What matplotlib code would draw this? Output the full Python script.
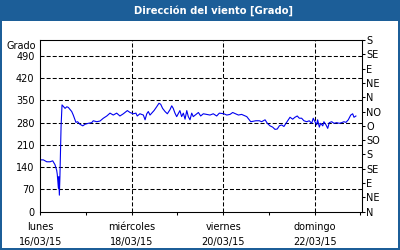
import matplotlib
matplotlib.use("Agg")
import matplotlib.pyplot as plt
from matplotlib.patches import Rectangle

plt.rcParams['font.family'] = ['DejaVu Sans']
plt.rcParams['lines.scale_dashes'] = False

title = "Dirección del viento [Grado]"
y_unit = "Grado"

hours = [0, 1.6, 3.4, 5.1, 6.5, 7.7, 8.6, 8.9, 9.5, 9.7, 10.0, 10.3, 10.9, 11.4,
         13.0, 13.9, 14.7, 16.5, 17.3, 18.7, 19.6, 20.8, 22.3, 23.5, 25.2, 27.0,
         27.8, 29.6, 31.3, 33.1, 34.9, 36.6, 38.3, 40.1, 41.8, 43.6, 45.7, 47.1,
         48.8, 50.2, 50.9, 52.3, 54.1, 55.0, 55.9, 56.7, 57.6, 59.7, 61.1, 62.3,
         63.2, 64.2, 65.5, 66.7, 68.1, 69.0, 69.8, 70.7, 71.6, 73.3, 74.2, 75.1,
         76.0, 76.9, 77.7, 78.6, 79.5, 80.3, 83.0, 84.2, 85.6, 89.1, 90.8, 92.6,
         94.0, 96.4, 97.9, 99.6, 101.0, 104.0, 105.7, 108.4, 110.5, 113.2, 115.0,
         116.2, 118.0, 119.2, 120.6, 122.0, 123.2, 124.4, 125.5, 126.7, 127.9,
         129.0, 130.2, 131.1, 132.5, 133.7, 134.9, 136.0, 137.2, 138.4, 139.9,
         141.2, 142.5, 143.3, 144.2, 145.1, 145.6, 146.5, 147.2, 148.3, 148.9,
         150.0, 150.9, 151.7, 153.0, 154.2, 155.6, 157.0, 158.2, 159.4, 160.5,
         161.7, 163.0, 164.0, 164.7, 165.7]
direction = [163, 163, 157, 157, 160, 148, 130, 118, 74, 110, 52, 110, 268, 336,
             325, 330, 328, 315, 304, 281, 283, 275, 270, 275, 278, 280,
             286, 283, 285, 294, 301, 310, 304, 310, 301, 308, 318, 312,
             308, 310, 301, 308, 304, 289, 308, 315, 304, 318, 330, 341,
             338, 325, 315, 308, 321, 333, 325, 310, 299, 318, 299, 310,
             291, 318, 299, 289, 310, 299, 312, 301, 308, 304, 308, 301,
             310, 308, 304, 306, 312, 304, 306, 299, 283, 286, 286,
             283, 289, 278, 270, 266, 259, 260, 270, 273, 268,
             278, 289, 297, 291, 297, 301, 294, 294, 286, 283,
             286, 278, 294, 283, 273, 289, 266, 278, 270, 283,
             273, 262, 280, 283, 278, 280, 278, 280, 283, 281,
             289, 304, 308, 297, 301]

y_ticks = [0, 70, 140, 210, 280, 350, 420, 490]
compass_ticks = [0, 45, 90, 135, 180, 225, 270, 315, 360, 405, 450, 495, 540]
compass_labels = ["N", "NE", "E", "SE", "S", "SO", "O", "NO", "N", "NE", "E", "SE", "S"]
x_major = [0, 48, 96, 144]
x_major_labels = ["lunes\n16/03/15", "miércoles\n18/03/15", "viernes\n20/03/15", "domingo\n22/03/15"]
x_minor = [24, 72, 120, 168]

blue_frame = "#1c5e98"
fig = plt.figure(figsize=(4, 2.5), dpi=100, facecolor=blue_frame)
fig.patches.append(Rectangle((2/400, 2/250), 396/400, 227/250, transform=fig.transFigure,
                             facecolor="white", edgecolor="none", zorder=-10))
fig.text(213/400, (250-10.5)/250, title, color="white", fontsize=7.2, fontweight="bold",
         ha="center", va="center")
fig.text(21.5/400, (250-45.7)/250, y_unit, fontsize=7, ha="center", va="center")

ax = fig.add_axes([40/400, (250-211.7)/250, 322/400, 171.7/250])
ax.set_facecolor("white")
ax.plot(hours, direction, color="#0000f0", linewidth=0.8, zorder=3)
ax.set_xlim(-0.16, 168.9)
ax.set_ylim(0, 540)

ax.set_yticks(y_ticks)
ax.set_yticklabels([str(v) for v in y_ticks], fontsize=7)
ax.tick_params(axis="y", which="both", left=True, length=0, pad=4)
ax.set_xticks(x_major)
ax.set_xticklabels(x_major_labels, fontsize=7, linespacing=1.55)
ax.set_xticks(x_minor, minor=True)
ax.tick_params(axis="x", which="both", direction="out", length=2.5, width=0.75, pad=5)

for y in y_ticks[1:]:
    ax.axhline(y, color="black", linewidth=0.75, linestyle=(0, (2.9, 1.5)), zorder=1)
for x in x_major[1:]:
    ax.axvline(x, color="black", linewidth=0.75, linestyle=(0, (2.9, 1.5)), zorder=1)

for s in ax.spines.values():
    s.set_linewidth(0.75)
    s.set_color("black")

ax2 = ax.twinx()
ax2.set_ylim(0, 540)
ax2.set_yticks(compass_ticks)
ax2.set_yticklabels(compass_labels, fontsize=7)
ax2.tick_params(axis="y", direction="out", length=2, width=0.75, pad=1)
for s in ax2.spines.values():
    s.set_linewidth(0.75)

fig.savefig("out.png", dpi=100, facecolor=blue_frame)
